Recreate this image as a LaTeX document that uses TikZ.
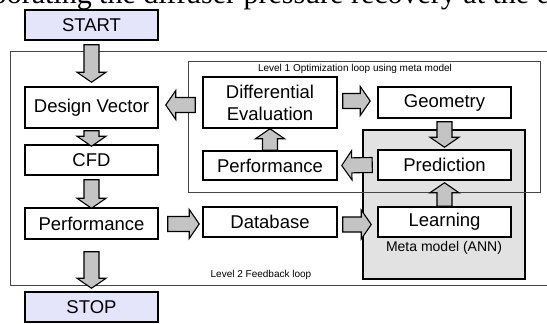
\documentclass[tikz,border=0pt]{standalone}
\usepackage{fontspec}
\setmainfont{Liberation Serif}
\newfontfamily\arialf{Liberation Sans}
\usetikzlibrary{calc}
\definecolor{startfill}{RGB}{228,228,250}
\definecolor{arrowgray}{RGB}{196,196,196}
\definecolor{metagray}{RGB}{226,226,226}
\definecolor{framegray}{RGB}{70,70,70}
\begin{document}
\begin{tikzpicture}[x=1pt,y=-1pt,
  box/.style={draw=black, line width=1.5pt, fill=white, inner sep=0pt,
    minimum width=133pt, minimum height=30pt,
    font=\arialf\fontsize{18.5}{22}\selectfont, align=center},
  termbox/.style={box, fill=startfill},
  metabox/.style={draw=black, line width=1.5pt, fill=metagray, inner sep=0pt,
    minimum width=162pt, minimum height=149pt},
  framelabel/.style={font=\arialf\fontsize{10}{12}\selectfont, inner sep=0pt},
  frameline/.style={draw=framegray, line width=0.9pt},
  blockarrow/.style={draw=black, line width=1.1pt, fill=arrowgray, line join=miter,
    to path={(\tikztostart) coordinate (ba-s) (\tikztotarget) coordinate (ba-e)
      ($(ba-s)!7.5pt!90:(ba-e)$)
      -- ($(ba-e)!12.5pt!-36.87:(ba-s)$)
      -- ($(ba-e)!17.61pt!-55.41:(ba-s)$)
      -- (ba-e)
      -- ($(ba-e)!17.61pt!55.41:(ba-s)$)
      -- ($(ba-e)!12.5pt!36.87:(ba-s)$)
      -- ($(ba-s)!7.5pt!-90:(ba-e)$) -- cycle}}]
\useasboundingbox (0,0) rectangle (547,324);
\clip (0,0) rectangle (547,324);

% clipped caption line above the figure
\node[anchor=base east, inner sep=0pt, font=\fontsize{30}{36}\selectfont] (cap1) at (92,4) {incorporating};
\node[anchor=base west, inner sep=0pt, font=\fontsize{30}{36}\selectfont] (cap2) at (99,4) {the diffuser pressure recovery at the design};

% level 2 frame (open to the right)
\draw[frameline] (600,51) -- (10,51) -- (10,285) -- (600,285);
\node[framelabel] (l2lbl) at (261,275) {Level 2 Feedback loop};

% meta model box
\node[metabox] (meta) at (444,204.5) {};
\node[font=\arialf\fontsize{14}{16}\selectfont, inner sep=0pt] (metalbl) at (444,248) {Meta model (ANN)};

% level 1 frame
\draw[frameline] (188,61) rectangle (540,192);
\node[framelabel] (l1lbl) at (355,68.5) {Level 1 Optimization loop using meta model};

% process boxes
\node[termbox] (start) at (91.5,25) {START};
\node[box, minimum height=41pt] (dv) at (91.5,107.5) {Design Vector};
\node[box] (cfd) at (91.5,160) {CFD};
\node[box, minimum height=31pt] (pl) at (91.5,223.5) {Performance};
\node[termbox] (stop) at (91.5,307) {STOP};

\node[box, minimum width=134pt, minimum height=51pt] (de) at (270,102.5) {Differential\\Evaluation};
\node[box, minimum width=134pt, minimum height=29pt] (pi) at (270,165.5) {Performance};
\node[box, minimum width=134pt] (db) at (270,222) {Database};

\node[box, minimum height=31pt] (geo) at (444.5,102.5) {Geometry};
\node[box] (pred) at (444.5,165) {Prediction};
\node[box] (learn) at (444.5,222) {Learning};

% block arrows
\draw[blockarrow] ([yshift=-4pt]start.south) to ([yshift=4pt]dv.north);
\draw[blockarrow] ([yshift=-2pt]dv.south) to ([yshift=-2pt]cfd.north);
\draw[blockarrow] ([yshift=-4pt]cfd.south) to ([yshift=-1pt]pl.north);
\draw[blockarrow] ([yshift=-12pt]pl.south) to ([yshift=3pt]stop.north);
\draw[blockarrow] ($(de.west)+(-7,2.5)$) to ($(dv.east)+(7,-2.5)$);
\draw[blockarrow] ($(de.east)+(5,-1.5)$) to ($(geo.west)+(-7,-1.5)$);
\draw[blockarrow] ([yshift=-3pt]geo.south) to ([yshift=2pt]pred.north);
\draw[blockarrow] ([xshift=-5pt]pred.west) to ([xshift=4pt]pi.east);
\draw[blockarrow] (pi.north) to (de.south);
\draw[blockarrow] ($(pl.east)+(9,0.5)$) to ($(db.west)+(-3,2)$);
\draw[blockarrow] ($(db.east)+(5,2.5)$) to ($(learn.west)+(-6,2.5)$);
\draw[blockarrow] (learn.north) to ([yshift=-2pt]pred.south);
\end{tikzpicture}
\end{document}
